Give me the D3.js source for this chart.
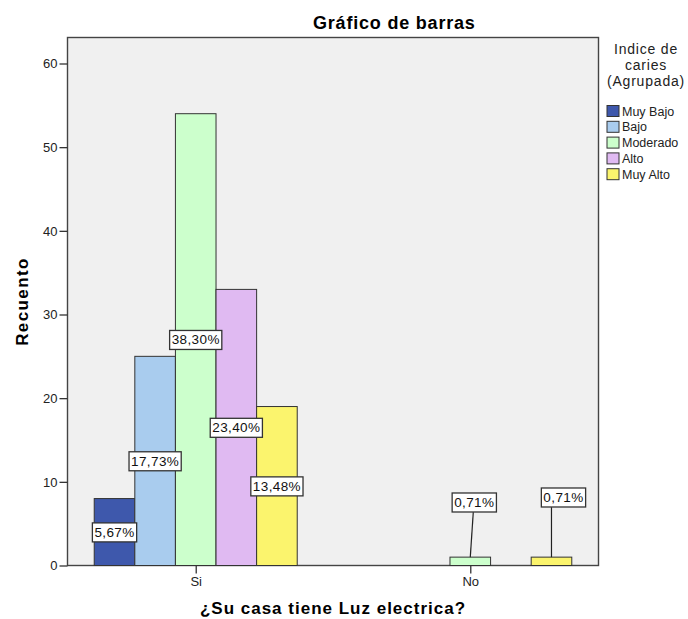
<!DOCTYPE html>
<html>
<head>
<meta charset="utf-8">
<script src="https://cdn.jsdelivr.net/npm/d3@7"></script>
<style>
body { margin: 0; background: #fff; }
text { font-family: "Liberation Sans", Arial, sans-serif; }
</style>
</head>
<body>
<script>
var groups = ["Si", "No"];
var series = ["Muy Bajo", "Bajo", "Moderado", "Alto", "Muy Alto"];
var colors = ["#3e58ac", "#a9ccee", "#ccffcc", "#e0baf2", "#fbf46d"];
var valuesSi = [8, 25, 54, 33, 19];
var valuesNo = [0, 0, 1, 0, 1];
var yTicks = [0, 10, 20, 30, 40, 50, 60];

var total = d3.sum(valuesSi) + d3.sum(valuesNo);
var data = [];
groups.forEach(function(g, gi) {
    var vals = gi === 0 ? valuesSi : valuesNo;
    series.forEach(function(s, si) {
        if (vals[si] > 0) data.push({group: g, serie: s, value: vals[si], idx: si});
    });
});

var width = 688, height = 619;
var mLeft = 67.5, mRight = 598.5, mTop = 37.5, mBottom = 565.5;

var svg = d3.select("body").append("svg").attr("width", width).attr("height", height);

var x0 = d3.scalePoint().domain(groups).range([mLeft, mRight]).padding(0.467);
var barW = 40.6;
var x1 = d3.scaleBand().domain(series).range([-2.5 * barW, 2.5 * barW]);
var y = d3.scaleLinear().domain([0, 60]).range([mBottom, 63.5]);
var color = d3.scaleOrdinal().domain(series).range(colors);

svg.append("rect")
    .attr("x", mLeft).attr("y", mTop)
    .attr("width", mRight - mLeft).attr("height", mBottom - mTop)
    .attr("fill", "#f0f0f0").attr("stroke", "#444").attr("stroke-width", 1.4);

// bars
svg.append("g").selectAll("rect")
    .data(data)
    .enter().append("rect")
    .attr("x", function(d) { return x0(d.group) + x1(d.serie); })
    .attr("y", function(d) { return y(d.value); })
    .attr("width", x1.bandwidth())
    .attr("height", function(d) { return y(0) - y(d.value); })
    .attr("fill", function(d) { return color(d.serie); })
    .attr("stroke", "#333").attr("stroke-width", 1);

// y axis
var yAxis = svg.append("g")
    .attr("transform", "translate(" + mLeft + ",0)")
    .call(d3.axisLeft(y).tickValues(yTicks).tickSize(8).tickPadding(2));
yAxis.select(".domain").remove();
yAxis.selectAll("line").attr("stroke", "#333").attr("stroke-width", 1.3);
yAxis.selectAll("text").attr("font-size", 13).attr("fill", "#222")
    .style("font-family", "'Liberation Sans', Arial, sans-serif");

// x axis
var xAxis = svg.append("g")
    .attr("transform", "translate(0," + mBottom + ")")
    .call(d3.axisBottom(x0).tickSize(8).tickPadding(3));
xAxis.select(".domain").remove();
xAxis.selectAll("line").attr("stroke", "#333").attr("stroke-width", 1.3);
xAxis.selectAll("text").attr("font-size", 13).attr("fill", "#222")
    .style("font-family", "'Liberation Sans', Arial, sans-serif");

// percentage labels (small bars get a label above with a leader line)
var fmt = function(v) { return (v / total * 100).toFixed(2).replace(".", ",") + "%"; };
data.forEach(function(d) {
    var cx = x0(d.group) + x1(d.serie) + x1.bandwidth() / 2;
    d.bx = cx; d.by = y(d.value);
    if (d.value < 3) {
        d.lx = cx + (d.idx === 4 ? 12 : 4);
        d.ly = y(d.value) - (d.idx === 4 ? 60 : 55);
    } else {
        d.lx = cx;
        d.ly = (y(0) + y(d.value)) / 2;
    }
});

svg.append("g").selectAll("line")
    .data(data.filter(function(d) { return d.value < 3; }))
    .enter().append("line")
    .attr("x1", function(d) { return d.idx === 4 ? d.bx : d.lx - 1; })
    .attr("y1", function(d) { return d.ly + 10; })
    .attr("x2", function(d) { return d.bx; })
    .attr("y2", function(d) { return d.by; })
    .attr("stroke", "#222").attr("stroke-width", 1.2);

var labels = svg.append("g").selectAll("g")
    .data(data)
    .enter().append("g")
    .attr("transform", function(d) { return "translate(" + d.lx + "," + d.ly + ")"; });

labels.append("text")
    .attr("text-anchor", "middle")
    .attr("dy", "0.36em")
    .attr("font-size", 13.5)
    .attr("letter-spacing", 0.4)
    .attr("fill", "#111")
    .text(function(d) { return fmt(d.value); })
    .each(function() {
        var b = this.getBBox();
        d3.select(this.parentNode).insert("rect", "text")
            .attr("x", b.x - 2).attr("y", b.y - 2)
            .attr("width", b.width + 4).attr("height", b.height + 4)
            .attr("fill", "#fff").attr("stroke", "#333").attr("stroke-width", 1.3);
    });

// titles
svg.append("text")
    .attr("x", 313).attr("y", 29)
    .attr("font-size", 18).attr("font-weight", "bold")
    .attr("letter-spacing", 0.8)
    .text("Gráfico de barras");

svg.append("text")
    .attr("x", (mLeft + mRight) / 2).attr("y", 614)
    .attr("text-anchor", "middle")
    .attr("font-size", 17).attr("font-weight", "bold")
    .attr("letter-spacing", 1)
    .text("¿Su casa tiene Luz electrica?");

svg.append("text")
    .attr("transform", "translate(28," + ((mTop + mBottom) / 2) + ") rotate(-90)")
    .attr("text-anchor", "middle")
    .attr("font-size", 17).attr("font-weight", "bold")
    .attr("letter-spacing", 1.4)
    .text("Recuento");

// legend
var legendTitle = ["Indice de", "caries", "(Agrupada)"];
svg.append("g").selectAll("text")
    .data(legendTitle)
    .enter().append("text")
    .attr("x", 646)
    .attr("y", function(d, i) { return 54 + i * 16; })
    .attr("text-anchor", "middle")
    .attr("font-size", 14)
    .attr("letter-spacing", 0.8)
    .attr("fill", "#222")
    .text(function(d) { return d; });

var legend = svg.append("g").selectAll("g")
    .data(series)
    .enter().append("g")
    .attr("transform", function(d, i) { return "translate(607," + (105.5 + i * 15.8) + ")"; });
legend.append("rect")
    .attr("width", 12).attr("height", 11)
    .attr("fill", function(d) { return color(d); })
    .attr("stroke", "#333").attr("stroke-width", 1);
legend.append("text")
    .attr("x", 15).attr("y", 10)
    .attr("font-size", 12.5)
    .attr("fill", "#222")
    .text(function(d) { return d; });
</script>
</body>
</html>
